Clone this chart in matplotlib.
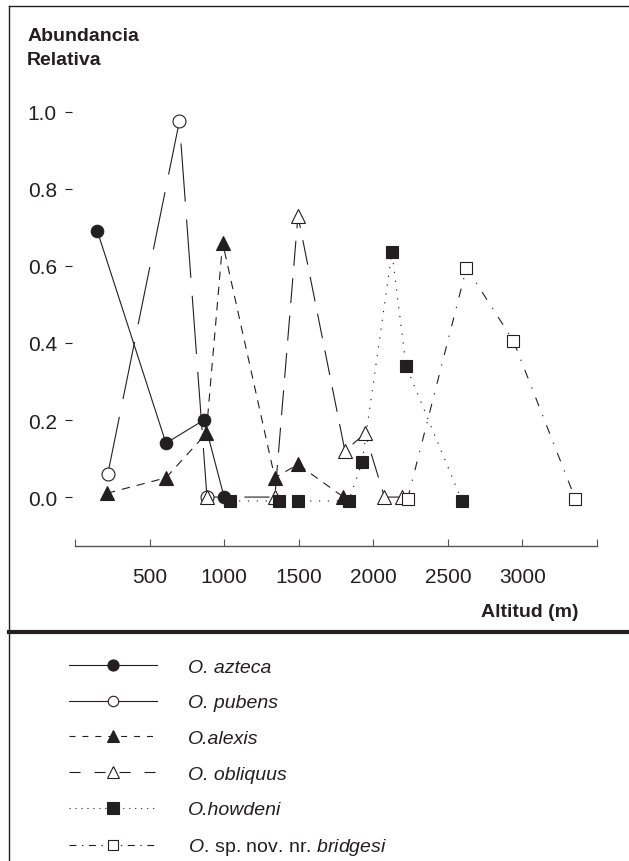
import matplotlib
matplotlib.use('Agg')
import matplotlib.pyplot as plt
from matplotlib.lines import Line2D

plt.rcParams['font.family'] = ['Liberation Sans', 'DejaVu Sans']
plt.rcParams['mathtext.fontset'] = 'custom'
plt.rcParams['mathtext.rm'] = 'Liberation Sans'
plt.rcParams['mathtext.it'] = 'Liberation Sans:italic'
plt.rcParams['lines.scale_dashes'] = False

ink = '#231f20'

# datos (altitud en m, abundancia relativa)
azteca_x = [150, 610, 865, 1000]
azteca_y = [0.69, 0.14, 0.20, 0.0]

pubens_x = [220, 700, 885]
pubens_y = [0.06, 0.975, 0.0]

alexis_x = [215, 610, 880, 990, 1340, 1495, 1800]
alexis_y = [0.01, 0.05, 0.165, 0.66, 0.05, 0.085, 0.0]

obliquus_x = [885, 1340, 1495, 1810, 1945, 2075, 2190]
obliquus_y = [0.0, 0.0, 0.73, 0.12, 0.165, 0.0, 0.0]

howdeni_x = [1040, 1365, 1495, 1835, 1925, 2125, 2220, 2595]
howdeni_y = [-0.01, -0.01, -0.01, -0.01, 0.09, 0.635, 0.34, -0.01]

bridgesi_x = [2230, 2625, 2940, 3355]
bridgesi_y = [-0.005, 0.595, 0.405, -0.005]

y_ticks = [0.0, 0.2, 0.4, 0.6, 0.8, 1.0]
x_ticks = [0, 500, 1000, 1500, 2000, 2500, 3000, 3500]
x_labels = ['', '500', '1000', '1500', '2000', '2500', '3000', '']

species = ['O. azteca', 'O. pubens', 'O.alexis', 'O. obliquus', 'O.howdeni',
           r'$\it{O.}\,$sp. nov. nr. $\it{bridgesi}$']

fig = plt.figure(figsize=(6.29, 8.62), dpi=100)
ax = fig.add_axes([0.1192, 0.3654, 0.8299, 0.5128])

series = [
    (azteca_x, azteca_y, '-', 'o', ink, 9),
    (pubens_x, pubens_y, (0, (42, 13)), 'o', 'white', 9.3),
    (alexis_x, alexis_y, (0, (6, 5)), '^', ink, 9.5),
    (obliquus_x, obliquus_y, (0, (18, 9)), '^', 'white', 9.5),
    (howdeni_x, howdeni_y, (0, (0.9, 5.5)), 's', ink, 9.3),
    (bridgesi_x, bridgesi_y, (0, (6.5, 7, 0.9, 7)), 's', 'white', 9.3),
]
for x, y, ls, mk, fc, ms in series:
    ax.plot(x, y, linestyle=ls, color=ink, lw=0.8, zorder=2)
for x, y, ls, mk, fc, ms in series:
    ax.plot(x, y, linestyle='none', marker=mk, markersize=ms,
            markerfacecolor=fc, markeredgecolor=ink, markeredgewidth=0.8, zorder=3)

ax.set_xlim(0, 3500)
ax.set_ylim(-0.127, 1.02)
for s in ['top', 'right']:
    ax.spines[s].set_visible(False)
ax.spines['left'].set_visible(False)
ax.spines['left'].set_position(('outward', 2))
ax.spines['bottom'].set_color('#555555')
ax.spines['bottom'].set_linewidth(1.0)
ax.spines['bottom'].set_bounds(0, 3500)

ax.set_yticks(y_ticks)
ax.set_yticklabels(['%.1f' % v for v in y_ticks])
ax.set_xticks(x_ticks)
ax.set_xticklabels(x_labels)
ax.tick_params(axis='y', direction='out', length=5, width=0.8, pad=6,
               labelsize=15, colors=ink)
ax.tick_params(axis='x', direction='in', length=5, width=0.8, pad=15,
               labelsize=15, colors=ink)
ax.tick_params(axis='x', colors='#555555', labelcolor=ink)

fig.text(0.043, 0.968, 'Abundancia\nRelativa', fontsize=14, fontweight='bold',
         color=ink, ha='left', va='top', linespacing=1.55)
fig.text(0.919, 0.29, 'Altitud (m)', fontsize=14, fontweight='bold',
         color=ink, ha='right', va='center')

# marco y separador
fig.add_artist(Line2D([9 / 629, 9 / 629], [0, 1 - 7 / 862], transform=fig.transFigure,
                      color=ink, lw=1.0))
fig.add_artist(Line2D([9 / 629, 1], [1 - 7 / 862, 1 - 7 / 862], transform=fig.transFigure,
                      color=ink, lw=1.0))
fig.add_artist(Line2D([9 / 629, 1], [1 - 633 / 862, 1 - 633 / 862], transform=fig.transFigure,
                      color=ink, lw=3.0))

# leyenda
leg_styles = [
    ('-', 'o', ink, 8),
    ('-', 'o', 'white', 7.5),
    ((0, (4.3, 5)), '^', ink, 8),
    ((0, (8, 10)), '^', 'white', 8),
    ((0, (0.8, 3.5)), 's', ink, 8),
    ((0, (5, 4, 1, 4)), 's', 'white', 7.5),
]
handles = [Line2D([], [], linestyle=ls, color=ink, lw=0.8, marker=mk, markersize=ms,
                  markerfacecolor=fc, markeredgecolor=ink, markeredgewidth=0.8)
           for ls, mk, fc, ms in leg_styles]
leg = fig.legend(handles, species, loc='upper left', bbox_to_anchor=(69 / 629, 1 - 659 / 862),
                 frameon=False, fontsize=14, handlelength=4.5, handletextpad=1.6,
                 labelspacing=0.93, borderpad=0, borderaxespad=0)
for i, t in enumerate(leg.get_texts()):
    t.set_color(ink)
    if i < 5:
        t.set_style('italic')

fig.savefig('out.png', dpi=100)
